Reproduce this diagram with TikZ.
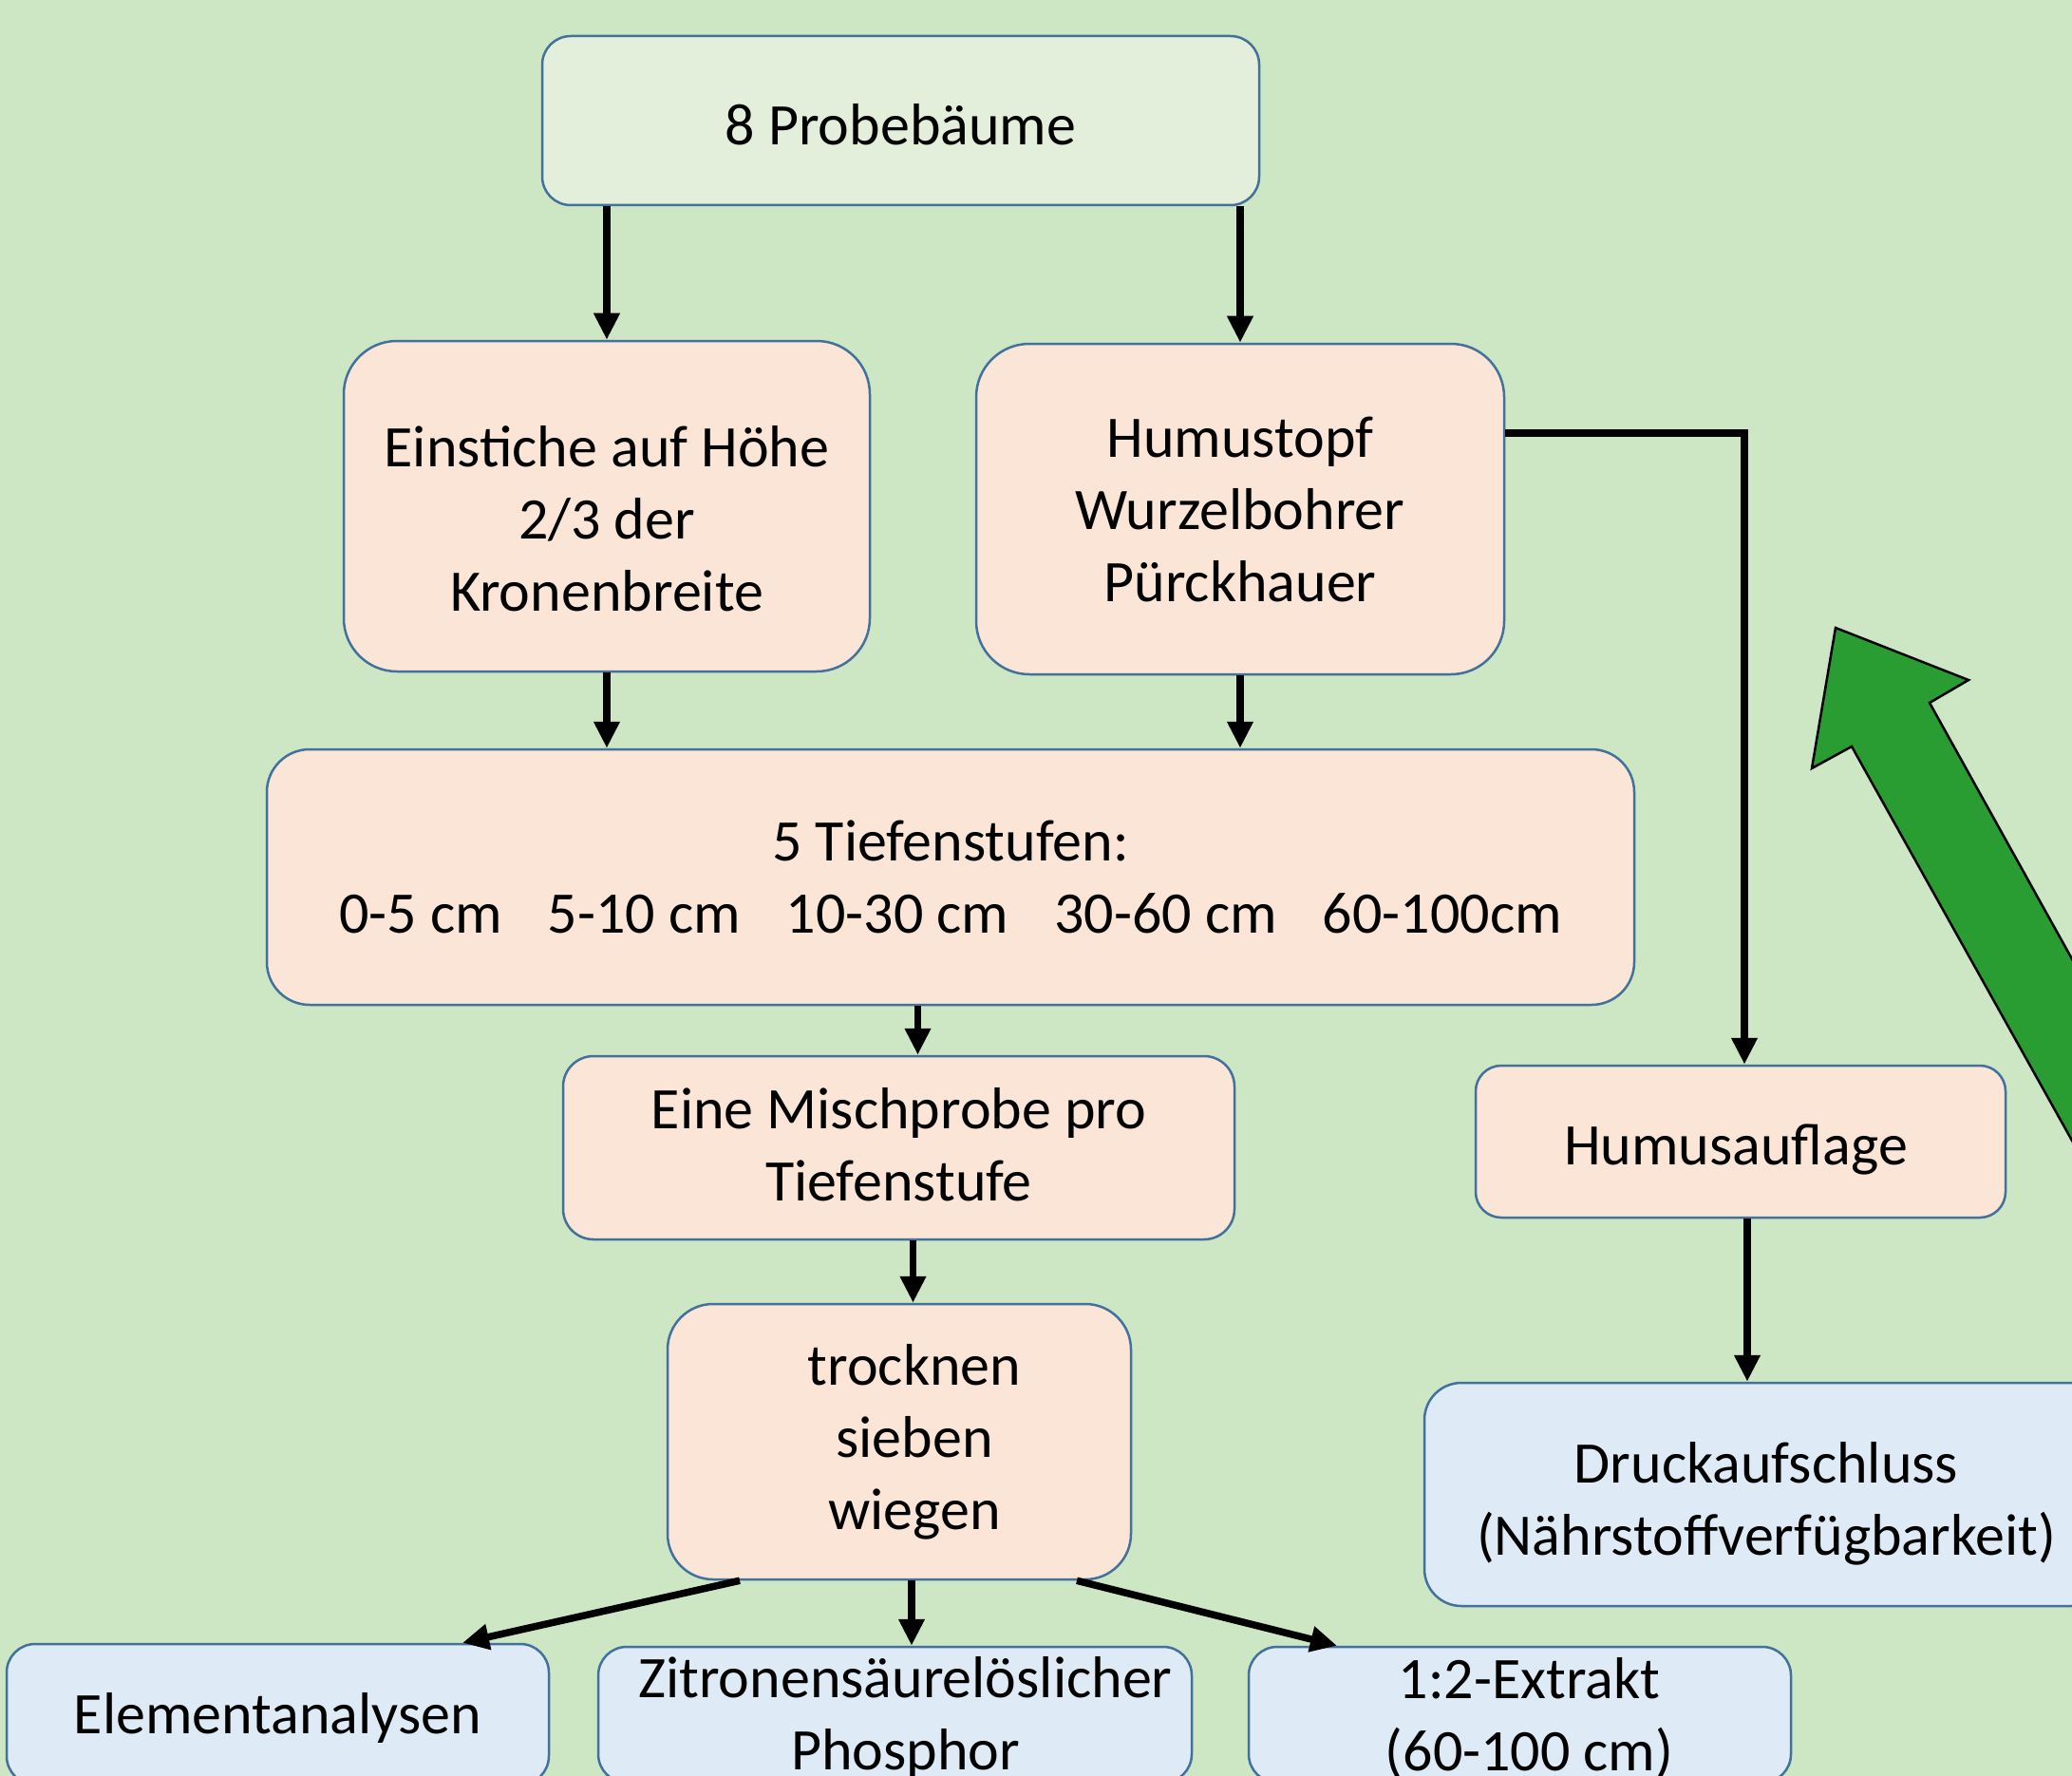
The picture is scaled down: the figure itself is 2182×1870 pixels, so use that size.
\documentclass[tikz,border=0pt]{standalone}
\usepackage{fontspec}
\setmainfont{Carlito}
\usetikzlibrary{arrows.meta}
\definecolor{bg}{RGB}{205,230,196}
\definecolor{topfill}{RGB}{227,239,218}
\definecolor{peach}{RGB}{251,229,214}
\definecolor{lblue}{RGB}{222,235,247}
\definecolor{bord}{RGB}{65,113,156}
\definecolor{garrow}{RGB}{42,157,50}
\begin{document}
\begin{tikzpicture}[x=1pt,y=-1pt,
  box/.style={draw=bord, line width=2.5pt, inner sep=0pt, align=center,
    font=\fontsize{62}{76}\selectfont},
  conn/.style={line width=7.5pt, -{Triangle[length=28pt,width=26pt]}},
]
\useasboundingbox (0,0) rectangle (2182,1870);
\fill[bg] (0,0) rectangle (2182,1870);
\clip (0,0) rectangle (2182,1870);

% green arrow
\draw[fill=garrow, line width=2.5pt, line join=miter]
  (1933,661) -- (2073,716) -- (2032,740) -- (2300,1222) -- (2300,1412)
  -- (1950,786) -- (1908,809) -- cycle;

% boxes
\node[box, fill=topfill, rounded corners=30pt, minimum width=755pt, minimum height=178pt]
  (p) at (948.5,127) {\rule{0pt}{52pt}8 Probebäume};
\node[box, fill=peach, rounded corners=56pt, minimum width=554pt, minimum height=348pt]
  (ein) at (639,533) {\rule{0pt}{70pt}Einstiche auf Höhe\\2/3 der\\Kronenbreite};
\node[box, fill=peach, rounded corners=56pt, minimum width=556pt, minimum height=348pt]
  (hum) at (1306,536) {Humustopf\\Wurzelbohrer\\Pürckhauer};
\node[box, fill=peach, rounded corners=45pt, minimum width=1440pt, minimum height=269pt]
  (tief) at (1001,923.5) {5 Tiefenstufen:\\0-5 cm\hspace{48pt}5-10 cm\hspace{48pt}10-30 cm\hspace{48pt}30-60 cm\hspace{48pt}60-100cm};
\node[box, fill=peach, rounded corners=32pt, minimum width=707pt, minimum height=193pt]
  (misch) at (946.5,1208.5) {Eine Mischprobe pro\\Tiefenstufe\rule[-8pt]{0pt}{1pt}};
\node[box, fill=peach, rounded corners=48pt, minimum width=488pt, minimum height=290pt]
  (trock) at (947,1518) {\hspace*{32pt}trocknen\\\hspace*{32pt}sieben\\\hspace*{32pt}wiegen};
\node[box, fill=peach, rounded corners=27pt, minimum width=558pt, minimum height=160pt]
  (humA) at (1833,1202) {\rule{0pt}{60pt}\hspace*{-10pt}Humusauflage};
\node[box, fill=lblue, rounded corners=39pt, minimum width=720pt, minimum height=235pt]
  (druck) at (1860,1573.5) {\rule{0pt}{62pt}Druckaufschluss\\(Nährstoffverfügbarkeit)};
\node[box, fill=lblue, rounded corners=30pt, minimum width=571pt, minimum height=148pt]
  (elem) at (292.5,1805) {\rule{0pt}{50pt}Elementanalysen};
\node[box, fill=lblue, rounded corners=30pt, minimum width=625pt, minimum height=143pt]
  (zit) at (942.5,1805.5) {\rule{0pt}{50pt}\hspace*{22pt}Zitronensäurelöslicher\\\hspace*{22pt}Phosphor};
\node[box, fill=lblue, rounded corners=30pt, minimum width=571pt, minimum height=143pt]
  (ext) at (1600.5,1805.5) {\rule{0pt}{50pt}\hspace*{20pt}1:2-Extrakt\\\hspace*{20pt}(60-100 cm)};

% connectors
\draw[conn] (p.south -| ein.north) -- (ein.north);
\draw[conn] (p.south -| hum.north) -- (hum.north);
\draw[conn] (ein.south) -- (ein.south |- tief.north);
\draw[conn] (hum.south) -- (hum.south |- tief.north);
\draw[conn] ([xshift=20pt]misch.north |- tief.south) -- ([xshift=20pt]misch.north);
\draw[conn] ([xshift=15pt]misch.south) -- ([xshift=15pt]misch.south |- trock.north);
\draw[conn] ([xshift=-168pt]trock.south) -- ([xshift=194.5pt]elem.north);
\draw[conn] ([xshift=13pt]trock.south) -- ([xshift=13pt]trock.south |- zit.north);
\draw[conn] ([xshift=187pt]trock.south) -- ([xshift=-192.5pt]ext.north);
\draw[conn] ([yshift=80pt]hum.east) -| ([xshift=4pt]humA.north);
\draw[conn] ([xshift=7pt]humA.south) -- ([xshift=7pt]humA.south |- druck.north);
\end{tikzpicture}
\end{document}
